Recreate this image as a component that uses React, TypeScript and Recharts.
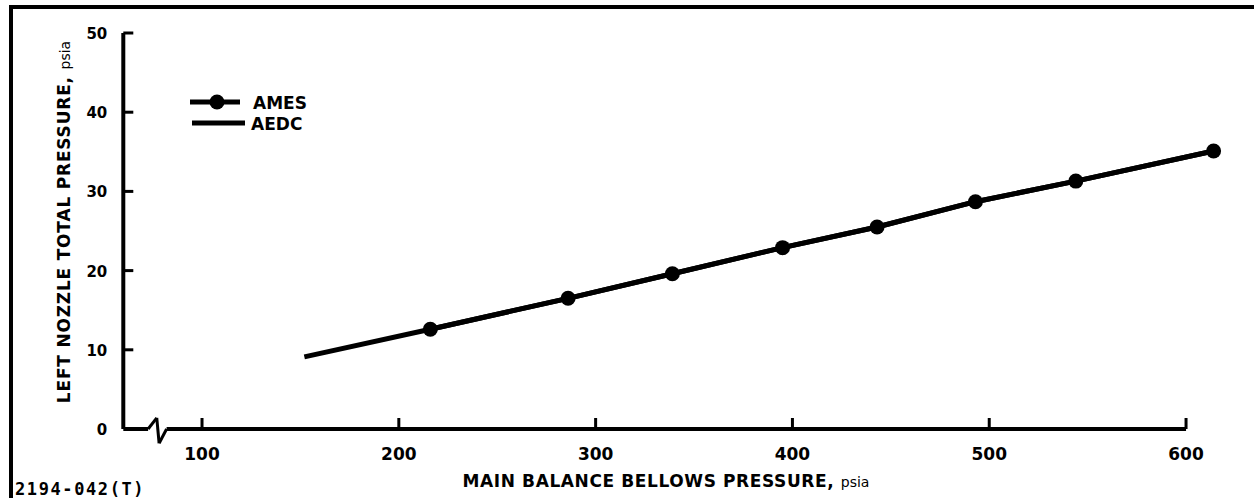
import React from 'react';
import { ComposedChart, Line, XAxis, YAxis, ReferenceLine } from 'recharts';

// values
const amesX = [216, 286, 339, 395, 443, 493, 544, 614];
const amesY = [12.6, 16.5, 19.6, 22.9, 25.5, 28.7, 31.3, 35.1];
const aedcX = [152, 216, 286, 339, 395, 443, 493, 544, 614];
const aedcY = [9.1, 12.6, 16.5, 19.6, 22.9, 25.5, 28.7, 31.3, 35.1];
const xTicks = [100, 200, 300, 400, 500, 600];
const yTicks = [0, 10, 20, 30, 40, 50];

const amesData = amesX.map((x, i) => ({ x, ames: amesY[i] }));
const aedcData = aedcX.map((x, i) => ({ x, aedc: aedcY[i] }));

// axis baseline with the break symbol near the origin
const axisBreak: [number, number][] = [[60, 0], [72.6, 0], [77, 1.4], [78.2, -1.8], [82, 0], [600, 0]];

const FONT = '"DejaVu Sans", sans-serif';

const XTick = (props: any) => {
  const { x, y, payload } = props;
  return (
    <g>
      <line x1={x} y1={y} x2={x} y2={y - 11} stroke="#000" strokeWidth={3} />
      <text x={x} y={y + 31} textAnchor="middle" fontFamily={FONT} fontWeight="bold" fontSize={17} fill="#000">
        {payload.value}
      </text>
    </g>
  );
};

const YTick = (props: any) => {
  const { x, y, payload } = props;
  return (
    <g>
      {payload.value !== 0 && <line x1={x} y1={y} x2={x + 10} y2={y} stroke="#000" strokeWidth={3} />}
      <text x={x - 16} y={y + 6} textAnchor="end" fontFamily={FONT} fontWeight="bold" fontSize={15} fill="#000">
        {payload.value}
      </text>
    </g>
  );
};

export default function App() {
  return (
    <div style={{ position: 'absolute', left: 0, top: 0, width: 1254, height: 498, background: '#fff', overflow: 'hidden' }}>
      <div style={{ position: 'absolute', left: 9, top: 5, width: 1300, height: 600, borderTop: '4px solid #000', borderLeft: '4px solid #000' }} />
      <ComposedChart width={1254} height={498} margin={{ top: 33, right: 28.6, bottom: 29, left: 63.3 }}>
        <XAxis
          type="number"
          dataKey="x"
          domain={[60, 620]}
          ticks={xTicks}
          allowDataOverflow
          axisLine={false}
          tickLine={false}
          tickSize={0}
          tickMargin={0}
          height={40}
          tick={<XTick />}
        />
        <YAxis
          type="number"
          domain={[0, 50]}
          ticks={yTicks}
          width={60}
          axisLine={{ stroke: '#000', strokeWidth: 4 }}
          tickLine={false}
          tickSize={0}
          tickMargin={0}
          tick={<YTick />}
        />
        {axisBreak.slice(1).map((p, i) => (
          <ReferenceLine
            key={i}
            segment={[{ x: axisBreak[i][0], y: axisBreak[i][1] }, { x: p[0], y: p[1] }]}
            stroke="#000"
            strokeWidth={i === 0 || i === 4 ? 4 : 3}
            ifOverflow="visible"
          />
        ))}
        <Line data={aedcData} dataKey="aedc" type="linear" stroke="#000" strokeWidth={5} dot={false} isAnimationActive={false} />
        <Line
          data={amesData}
          dataKey="ames"
          type="linear"
          stroke="#000"
          strokeWidth={5}
          dot={{ r: 7.5, fill: '#000', stroke: '#000', strokeWidth: 0 }}
          isAnimationActive={false}
        />
      </ComposedChart>
      <svg width={1254} height={498} style={{ position: 'absolute', left: 0, top: 0, pointerEvents: 'none' }}>
        {/* legend */}
        <line x1={190} y1={102} x2={240} y2={102} stroke="#000" strokeWidth={5} />
        <circle cx={217} cy={102} r={7.5} fill="#000" />
        <text x={253} y={109} fontFamily={FONT} fontWeight="bold" fontSize={17}>AMES</text>
        <line x1={192} y1={123} x2={245} y2={123} stroke="#000" strokeWidth={5} />
        <text x={251} y={130} fontFamily={FONT} fontWeight="bold" fontSize={17}>AEDC</text>
        <text transform="translate(70, 222) rotate(-90)" textAnchor="middle" fontFamily={FONT} fontWeight="bold" fontSize={17} letterSpacing={0.8}>
          LEFT NOZZLE TOTAL PRESSURE, <tspan fontWeight="normal" fontSize={14} letterSpacing={0}>psia</tspan>
        </text>
        <text x={666} y={487} textAnchor="middle" fontFamily={FONT} fontWeight="bold" fontSize={17} letterSpacing={0.6}>
          MAIN BALANCE BELLOWS PRESSURE, <tspan fontWeight="normal" fontSize={14} letterSpacing={0}>psia</tspan>
        </text>
        <text x={15} y={495} fontFamily='"DejaVu Sans Mono", monospace' fontWeight="bold" fontSize={17} letterSpacing={1.6}>
          2194-042(T)
        </text>
      </svg>
    </div>
  );
}
